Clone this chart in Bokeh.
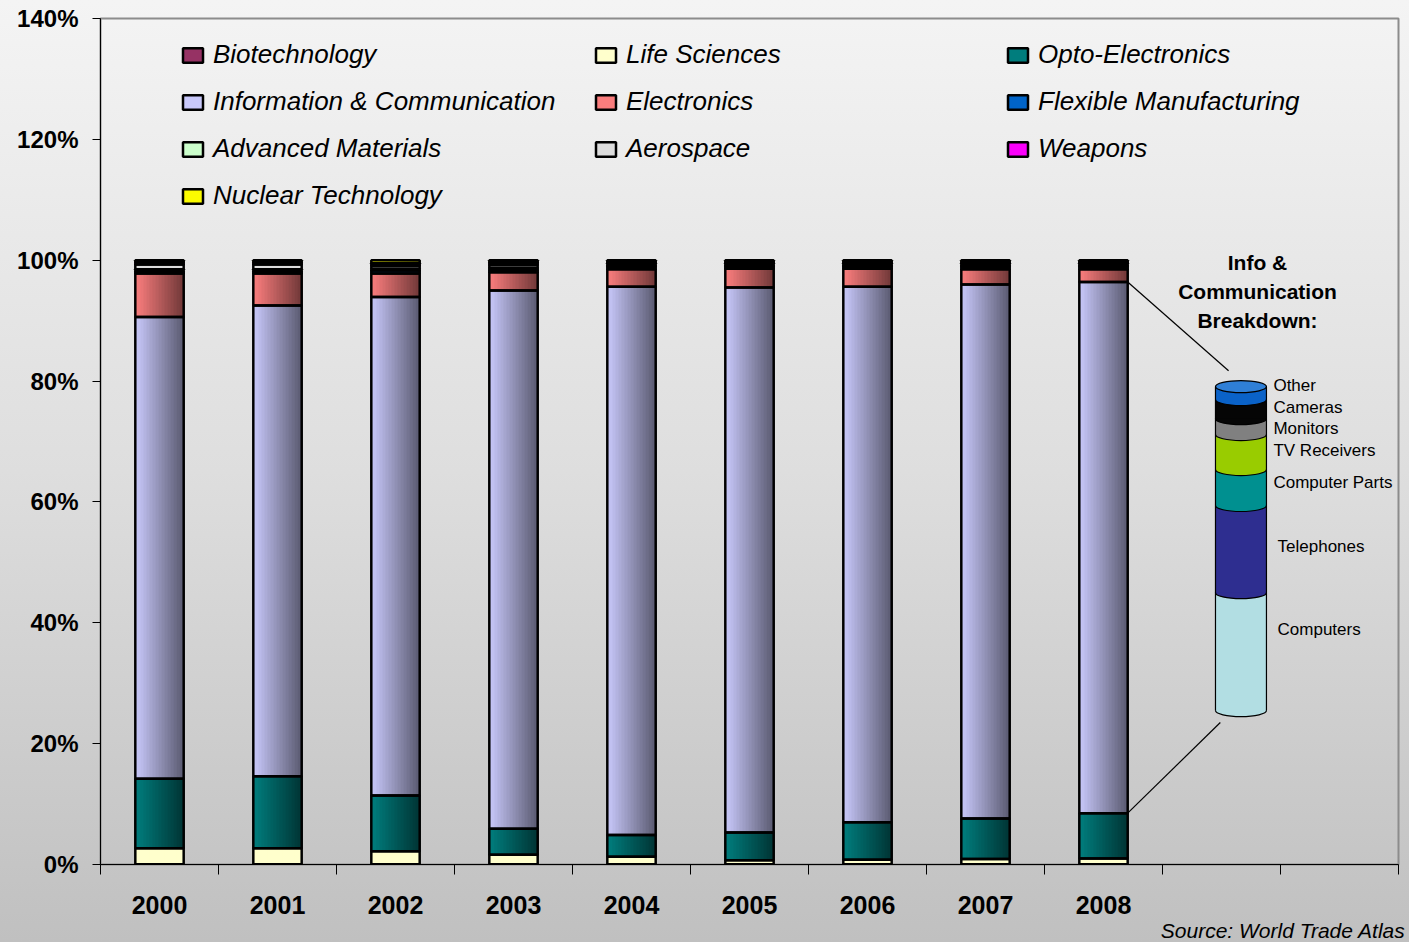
from bokeh.plotting import figure
from bokeh.models import ColumnDataSource, Range1d, FixedTicker, Legend, LegendItem, Title
from bokeh.embed import file_html
from bokeh.resources import INLINE
from bokeh.core.properties import value

# ---------------- data ----------------
years = ["2000", "2001", "2002", "2003", "2004", "2005", "2006", "2007", "2008"]
n_slots = 11  # 9 years + 2 empty category slots

series = ["Biotechnology", "Life Sciences", "Opto-Electronics",
          "Information & Communication", "Electronics", "Flexible Manufacturing",
          "Advanced Materials", "Aerospace", "Weapons", "Nuclear Technology"]

biotech = [0.05, 0.05, 0.05, 0.05, 0.05, 0.05, 0.05, 0.05, 0.05]
life_sci = [2.65, 2.65, 2.15, 1.55, 1.25, 0.65, 0.75, 0.85, 0.95]
opto = [11.5, 11.9, 9.2, 4.3, 3.6, 4.6, 6.2, 6.7, 7.5]
info_comm = [76.4, 77.9, 82.5, 89.1, 90.7, 90.2, 88.6, 88.4, 87.9]
electronics = [7.2, 5.3, 3.9, 3.0, 2.9, 3.1, 3.0, 2.5, 2.1]
flex_manuf = [0.3, 0.3, 0.5, 0.4, 0.4, 0.3, 0.3, 0.4, 0.4]
adv_mat = [0.4, 0.4, 0.3, 0.3, 0.2, 0.2, 0.2, 0.2, 0.2]
aerospace = [0.8, 0.8, 0.5, 0.5, 0.4, 0.4, 0.4, 0.4, 0.4]
weapons = [0.4, 0.3, 0.4, 0.4, 0.2, 0.2, 0.2, 0.2, 0.2]
nuclear = [0.3, 0.4, 0.5, 0.4, 0.3, 0.3, 0.3, 0.3, 0.3]

values = [biotech, life_sci, opto, info_comm, electronics, flex_manuf,
          adv_mat, aerospace, weapons, nuclear]

colors = ["#993366", "#FFFFCC", "#008080", "#CCCCFF", "#FF8080", "#0066CC",
          "#CCFFCC", "#DDDDDD", "#FF00FF", "#FFFF00"]
right_dark = [0.42, 1.0, 0.42, 0.45, 0.45, 0.5, 1.0, 1.0, 0.5, 0.5]

y_ticks = [0, 20, 40, 60, 80, 100, 120, 140]
y_tick_labels = ["0%", "20%", "40%", "60%", "80%", "100%", "120%", "140%"]

ic_cats = ["Computers", "Telephones", "Computer Parts", "TV Receivers",
           "Monitors", "Cameras", "Other"]
ic_share = [36.4, 26.9, 11.1, 10.8, 4.9, 5.9, 4.0]
ic_colors = ["#B2DEE3", "#2E2E90", "#009090", "#99CC00", "#808080", "#050505", "#0A62C8"]

source_text = "Source: World Trade Atlas"
breakdown_title = ["Info &", "Communication", "Breakdown:"]

# ---------------- layout constants ----------------
FONT = "Liberation Sans"
BAR_W = 0.41
N_STRIPS = 16
CYL_X = 9.665
CYL_W = 0.432
CYL_RANGE = (-47.5, 213.6)

p = figure(width=1409, height=942, x_range=Range1d(0, n_slots), y_range=Range1d(0, 140),
           output_backend="svg", toolbar_location=None,
           min_border_left=100, min_border_right=11, min_border_top=18, min_border_bottom=78)
p.extra_y_ranges = {"cyl": Range1d(*CYL_RANGE)}

p.background_fill_alpha = 0
p.border_fill_alpha = 0
p.styles = {"background": "linear-gradient(to bottom, #f4f4f4 0%, #dedede 50%, #c0c0c0 100%)"}
p.outline_line_color = "#8c8c8c"
p.outline_line_width = 2
p.grid.visible = False

# ---------------- stacked bars ----------------
def mix(hexc, f):
    r, g, b = int(hexc[1:3], 16), int(hexc[3:5], 16), int(hexc[5:7], 16)
    return "#%02x%02x%02x" % (int(r * f), int(g * f), int(b * f))

xs, bots, tops, segcol, segdark = [], [], [], [], []
for yi in range(len(years)):
    cum = 0.0
    for si in range(len(series)):
        v = values[si][yi]
        xs.append(yi + 0.5)
        bots.append(cum)
        tops.append(cum + v)
        segcol.append(colors[si])
        segdark.append(right_dark[si])
        cum += v

sw = BAR_W / N_STRIPS
strip_renderers = []
for k in range(N_STRIPS):
    t = (k + 0.5) / N_STRIPS
    off = -BAR_W / 2 + (k + 0.5) * sw
    cols = [mix(c, 1 - (1 - d) * t) for c, d in zip(segcol, segdark)]
    src = ColumnDataSource(dict(x=[x + off for x in xs], bottom=bots, top=tops, c=cols))
    r = p.vbar(x="x", bottom="bottom", top="top", width=sw * 1.6, fill_color="c",
               line_color=None, source=src)
    strip_renderers.append(r)

outline_src = ColumnDataSource(dict(x=xs, bottom=bots, top=tops))
outline_r = p.vbar(x="x", bottom="bottom", top="top", width=BAR_W, fill_alpha=0,
                   line_color="black", line_width=2.5, source=outline_src)

col_groups = [[0, 3, 6, 9], [1, 4, 7], [2, 5, 8]]
col_x = [80, 493, 905]
col_y = [653, 700, 700]
for grp, lx, ly in zip(col_groups, col_x, col_y):
    items = []
    for i in grp:
        items.append(LegendItem(label=series[i], renderers=[strip_renderers[0], outline_r], index=i))
    leg = Legend(items=items, location=(lx, ly), orientation="vertical",
                 background_fill_alpha=0, border_line_alpha=0,
                 padding=0, margin=0, spacing=16,
                 glyph_width=25, glyph_height=18, label_height=30, label_standoff=8,
                 label_text_font=FONT, label_text_font_size="26px",
                 label_text_font_style="italic", label_text_color="black")
    p.add_layout(leg, "center")

# ---------------- axes ----------------
xa = p.xaxis[0]
xa.ticker = FixedTicker(ticks=[i + 0.5 for i in range(len(years))],
                        minor_ticks=list(range(n_slots + 1)))
xa.major_label_overrides = {i + 0.5: y for i, y in enumerate(years)}
xa.major_tick_line_alpha = 0
xa.major_tick_out = 0
xa.major_tick_in = 0
xa.minor_tick_out = 10
xa.minor_tick_in = 0
xa.minor_tick_line_color = "black"
xa.axis_line_color = "black"
xa.axis_line_width = 1
xa.major_label_standoff = 21
xa.major_label_text_font = FONT
xa.major_label_text_font_size = "25px"
xa.major_label_text_font_style = "bold"
xa.major_label_text_color = "black"

ya = p.yaxis[0]
ya.ticker = FixedTicker(ticks=y_ticks, minor_ticks=[])
ya.major_label_overrides = {t: l for t, l in zip(y_ticks, y_tick_labels)}
ya.major_tick_out = 8
ya.major_tick_in = 0
ya.major_tick_line_color = "black"
ya.axis_line_color = "black"
ya.major_label_standoff = 14
ya.major_label_text_font = FONT
ya.major_label_text_font_size = "24px"
ya.major_label_text_font_style = "bold"
ya.major_label_text_color = "black"

# source note below the axis, right-aligned
p.add_layout(Title(text=source_text, align="right", standoff=0, offset=-7,
                   text_font=FONT, text_font_size="21px", text_font_style="italic",
                   text_color="black", text_line_height=1.0), "below")

# ---------------- breakdown cylinder ----------------
cum = [0.0]
for s in ic_share:
    cum.append(cum[-1] + s)

for i in range(len(ic_share)):
    p.ellipse(x=[CYL_X], y=[cum[i]], width=CYL_W, height=12, height_units="screen",
              fill_color=ic_colors[i], line_color="black", line_width=1.2, y_range_name="cyl")
    p.vbar(x=[CYL_X], bottom=[cum[i]], top=[cum[i + 1]], width=CYL_W,
           fill_color=ic_colors[i], line_color=None, y_range_name="cyl")
p.ellipse(x=[CYL_X], y=[cum[-1]], width=CYL_W, height=12, height_units="screen",
          fill_color="#2f7fd6", line_color="black", line_width=1.2, y_range_name="cyl")
p.segment(x0=[CYL_X - CYL_W / 2, CYL_X + CYL_W / 2], y0=[cum[0], cum[0]],
          x1=[CYL_X - CYL_W / 2, CYL_X + CYL_W / 2], y1=[cum[-1], cum[-1]],
          line_color="black", line_width=1.2, y_range_name="cyl")

# labels beside cylinder
lab_x = [9.975, 9.975, 9.94, 9.94, 9.94, 9.94, 9.94]
lab_y = [25.0, 50.6, 70.4, 80.2, 87.0, 93.5, 100.3]
p.text(x=lab_x, y=lab_y, text=ic_cats, text_font=value(FONT), text_font_size="17px",
       text_baseline="middle", text_align="left", text_color="black", y_range_name="cyl")

p.text(x=[9.805, 9.805, 9.805], y=[99.6, 94.8, 90.0], text=breakdown_title,
       text_font=value(FONT), text_font_size="21px", text_font_style="bold",
       text_baseline="middle", text_align="center", text_color="black")

# connector lines from 2008 info segment to the cylinder
i08 = len(years) - 1
info_bottom_08 = biotech[i08] + life_sci[i08] + opto[i08]
info_top_08 = info_bottom_08 + info_comm[i08]
p.segment(x0=[i08 + 0.5 + BAR_W / 2, i08 + 0.5 + BAR_W / 2], y0=[info_top_08, info_bottom_08],
          x1=[9.56, 9.49], y1=[81.7, 23.5], line_color="black", line_width=1.2)

open("out.html", "w").write(file_html(p, INLINE))
